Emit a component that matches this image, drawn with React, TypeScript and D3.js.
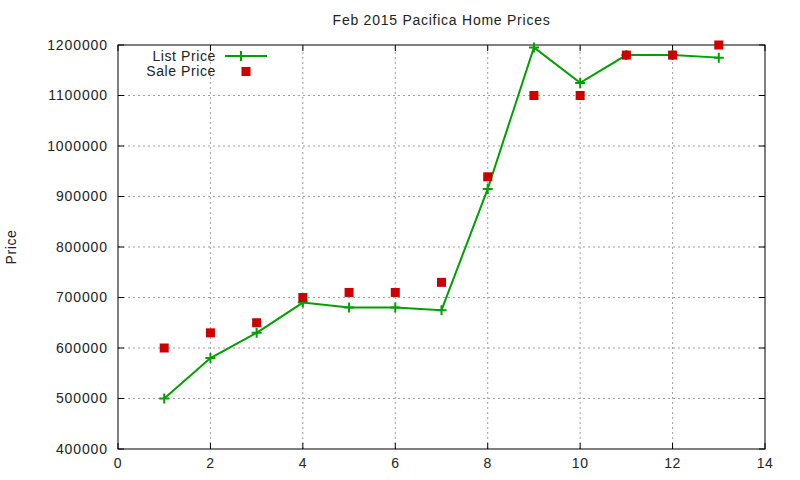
import React from 'react';
import * as d3 from 'd3';

const months = [1, 2, 3, 4, 5, 6, 7, 8, 9, 10, 11, 12, 13];
const listPrice = [500000, 580000, 630000, 690000, 680000, 680000, 675000, 915000, 1195000, 1125000, 1180000, 1180000, 1175000];
const salePrice = [600000, 630000, 650000, 700000, 710000, 710000, 730000, 939000, 1100000, 1100000, 1180000, 1180000, 1200000];
const xTicks = [0, 2, 4, 6, 8, 10, 12, 14];
const yTicks = [400000, 500000, 600000, 700000, 800000, 900000, 1000000, 1100000, 1200000];

const width = 800;
const height = 480;
const margin = { top: 45, right: 35, bottom: 31, left: 118 };
const font = '"Liberation Sans", Arial, sans-serif';

export default function App() {
  const x = d3.scaleLinear().domain([0, 14]).range([margin.left, width - margin.right]);
  const y = d3.scaleLinear().domain([400000, 1200000]).range([height - margin.bottom, margin.top]);

  const line = d3.line<number>()
    .x((_, i) => x(months[i]))
    .y(d => y(d));

  const [x0, x1] = x.range();
  const [y0, y1] = y.range();
  const green = '#00a000';
  const red = '#cc0000';

  return (
    <svg width={width} height={height} style={{ position: 'absolute', left: 0, top: 0, background: '#fff' }}
      fontFamily={font}>
      {/* grid */}
      {xTicks.slice(1, -1).map(t => (
        <line key={'gx' + t} x1={x(t)} x2={x(t)} y1={y0} y2={y1} stroke="#a0a0a0" strokeDasharray="2,3" />
      ))}
      {yTicks.slice(1, -1).map(t => (
        <line key={'gy' + t} x1={x0} x2={x1} y1={y(t)} y2={y(t)} stroke="#a0a0a0" strokeDasharray="2,3" />
      ))}

      {/* ticks, mirrored */}
      {xTicks.map(t => (
        <g key={'tx' + t}>
          <line x1={x(t)} x2={x(t)} y1={y0} y2={y0 - 6} stroke="#000" />
          <line x1={x(t)} x2={x(t)} y1={y1} y2={y1 + 6} stroke="#000" />
          <text x={x(t)} y={y0 + 19} textAnchor="middle" fontSize={14} letterSpacing={0.5} fill="#222">{t}</text>
        </g>
      ))}
      {yTicks.map(t => (
        <g key={'ty' + t}>
          <line x1={x0} x2={x0 + 6} y1={y(t)} y2={y(t)} stroke="#000" />
          <line x1={x1} x2={x1 - 6} y1={y(t)} y2={y(t)} stroke="#000" />
          <text x={x0 - 10} y={y(t)} dy="0.35em" textAnchor="end" fontSize={14} letterSpacing={0.9} fill="#222">{t}</text>
        </g>
      ))}

      <rect x={x0} y={y1} width={x1 - x0} height={y0 - y1} fill="none" stroke="#000" />

      {/* list price */}
      <path d={line(listPrice) ?? ''} fill="none" stroke={green} strokeWidth={2} />
      {listPrice.map((v, i) => (
        <path key={'lp' + i} d={`M${x(months[i]) - 5},${y(v)}h10M${x(months[i])},${y(v) - 5}v10`} stroke={green} strokeWidth={2} />
      ))}

      {/* sale price */}
      {salePrice.map((v, i) => (
        <rect key={'sp' + i} x={x(months[i]) - 4.5} y={y(v) - 4.5} width={9} height={9} fill={red} />
      ))}

      {/* legend */}
      <text x={216} y={61} textAnchor="end" fontSize={14} letterSpacing={0.6} fill="#222">List Price</text>
      <line x1={225} x2={267} y1={56} y2={56} stroke={green} strokeWidth={2} />
      <path d="M241,51v10M236,56h10" stroke={green} strokeWidth={2} />
      <text x={216} y={76} textAnchor="end" fontSize={14} letterSpacing={0.6} fill="#222">Sale Price</text>
      <rect x={241.5} y={67} width={9} height={9} fill={red} />

      <text x={(x0 + x1) / 2} y={25} textAnchor="middle" fontSize={14} letterSpacing={0.75} fill="#222">Feb 2015 Pacifica Home Prices</text>
      <text transform={`translate(16,${(y0 + y1) / 2}) rotate(-90)`} textAnchor="middle" fontSize={14} letterSpacing={0.6} fill="#222">Price</text>
    </svg>
  );
}
